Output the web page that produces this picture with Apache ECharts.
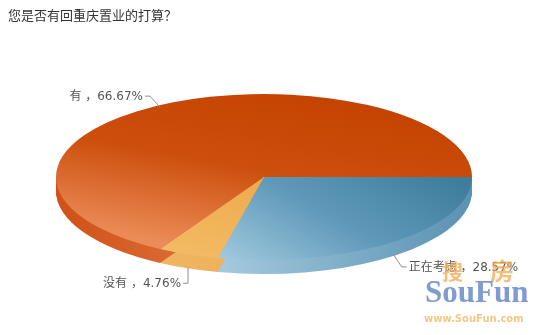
<!DOCTYPE html>
<html>
<head>
<meta charset="utf-8">
<script src="https://cdn.jsdelivr.net/npm/echarts@6/dist/echarts.min.js"></script>
<style>
html,body{margin:0;padding:0;background:#fff;}
#c{width:542px;height:335px;}
</style>
</head>
<body>
<div id="c"></div>
<script>
// ---- data ----
const chartTitle = '您是否有回重庆置业的打算？';
const categories = ['正在考虑', '没有', '有'];
const values = [28.57, 4.76, 66.67];

// ---- layout / style ----
const CX = 264, CY = 177, R = 208, RY = 83, T = 14;
const K = RY / R;
const leaderOffsets = [[8, 12], [0, 16], [-10, -11]];
const G = echarts.graphic.LinearGradient;
const topFills = [
  new G(1, 0.15, 0, 1, [{offset: 0, color: '#3F7D9D'}, {offset: 0.5, color: '#5F99B9'}, {offset: 1, color: '#A2CADF'}]),
  new G(1, 0, 0, 1, [{offset: 0, color: '#EDAA4C'}, {offset: 1, color: '#F3BC66'}]),
  new G(0.75, 0.05, 0.35, 1, [{offset: 0, color: '#C44300'}, {offset: 0.5, color: '#CD4F0E'}, {offset: 1, color: '#EB8B57'}])
];
const sideFills = [
  new G(0, 0, 1, 0, [{offset: 0, color: '#A4CADE'}, {offset: 1, color: '#5A91B2'}]),
  new G(0, 0, 1, 0, [{offset: 0, color: '#EFB560'}, {offset: 1, color: '#EDB05A'}]),
  new G(0, 0, 1, 0, [{offset: 0, color: '#CF5116'}, {offset: 1, color: '#E27C48'}])
];
const FONT = '12px "DejaVu Sans", "Noto Sans CJK SC", sans-serif';

function renderItem(params, api) {
  const i = params.dataIndex;
  const total = values.reduce((a, b) => a + b, 0);
  let acc = 0;
  for (let j = 0; j < i; j++) acc += values[j];
  const v = api.value(1);
  const a0 = acc / total * 2 * Math.PI;
  const a1 = (acc + v) / total * 2 * Math.PI;
  const children = [];
  const s0 = Math.max(a0, 0), s1 = Math.min(a1, Math.PI);
  if (s1 > s0) {
    for (let k = T; k >= 1; k--) {
      children.push({
        type: 'sector',
        shape: {cx: CX, cy: CY + k, r: R, r0: 0, startAngle: s0, endAngle: s1, clockwise: true},
        originX: CX, originY: CY + k, scaleY: K,
        style: {fill: sideFills[i]},
        z2: 1
      });
    }
  }
  children.push({
    type: 'sector',
    shape: {cx: CX, cy: CY, r: R, r0: 0, startAngle: a0, endAngle: a1, clockwise: true},
    originX: CX, originY: CY, scaleY: K,
    style: {fill: topFills[i]},
    z2: 10
  });
  // label with leader
  const m = (a0 + a1) / 2;
  const front = Math.sin(m) > 0;
  const px = CX + R * Math.cos(m);
  const py = CY + RY * Math.sin(m) + (front ? T - 1 : 2);
  const off = leaderOffsets[i];
  const qx = px + off[0], qy = py + off[1];
  const right = Math.cos(m) > 0;
  const ex = qx + (right ? 5 : -5);
  children.push({
    type: 'polyline',
    shape: {points: [[px, py], [qx, qy], [ex, qy]]},
    style: {stroke: '#8f8f8f', lineWidth: 1, fill: null},
    z2: 20
  });
  const pct = (v / total * 100).toFixed(2);
  children.push({
    type: 'text',
    style: {
      text: categories[i] + ' ，' + pct + '%',
      x: ex + (right ? 2 : -2), y: qy + 1,
      align: right ? 'left' : 'right', verticalAlign: 'middle',
      fill: '#555555', font: FONT
    },
    z2: 20
  });
  return {type: 'group', children: children};
}

const chart = echarts.init(document.getElementById('c'), null, {renderer: 'canvas'});
chart.setOption({
  backgroundColor: '#ffffff',
  animation: false,
  title: {
    text: chartTitle, left: 3, top: 4,
    textStyle: {fontSize: 13, fontWeight: 'normal', color: '#333333', fontFamily: '"Noto Sans CJK SC", sans-serif'}
  },
  graphic: [
    {type: 'text', left: 442, top: 261, z: 100, silent: true,
     style: {text: '搜', font: 'bold 21px "Noto Sans CJK SC"', fill: 'rgba(240,170,80,0.75)'}},
    {type: 'text', left: 490, top: 259, z: 100, silent: true,
     style: {text: '房', font: 'bold 24px "Noto Sans CJK SC"', fill: 'rgba(240,170,80,0.75)'}},
    {type: 'text', left: 425, top: 278, z: 100, silent: true,
     style: {text: 'SouFun', font: 'bold 31px "Liberation Serif", serif', fill: 'rgba(105,138,202,0.85)'}},
    {type: 'text', left: 424, top: 314, z: 100, silent: true,
     style: {text: 'www.SouFun.com', font: 'bold 10px "DejaVu Sans", sans-serif', fill: 'rgba(240,190,110,0.85)'}}
  ],
  series: [{
    type: 'custom',
    coordinateSystem: 'none',
    silent: true,
    renderItem: renderItem,
    data: values.map((v, i) => [i, v])
  }]
});
</script>
</body>
</html>
